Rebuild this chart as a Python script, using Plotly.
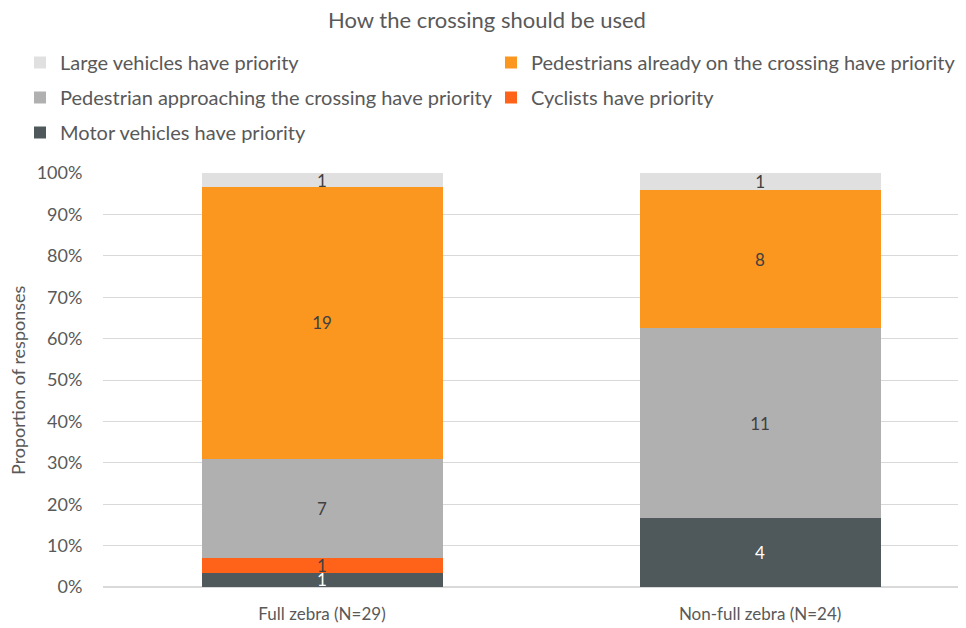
import plotly.graph_objects as go

categories = ["Full zebra (N=29)", "Non-full zebra (N=24)"]
totals = [29, 24]
series_names = [
    "Motor vehicles have priority",
    "Cyclists have priority",
    "Pedestrian approaching the crossing have priority",
    "Pedestrians already on the crossing have priority",
    "Large vehicles have priority",
]
motor = [1, 4]
cyclists = [1, 0]
approaching = [7, 11]
already = [19, 8]
large = [1, 1]
series_values = [motor, cyclists, approaching, already, large]
colors = ["#4F585B", "#FF6319", "#B0B0B0", "#FB961F", "#E0E0E0"]
text_colors = ["#FFFFFF", "#404040", "#404040", "#404040", "#404040"]
legend_ids = ["legend", "legend2", "legend", "legend2", "legend"]
ranks = [3, 2, 2, 1, 1]
y_title = "Proportion of responses"

FONT = "Lato"
W, H = 958, 620
L, R, T, B = 95, 0, 165, 41
fig = go.Figure()
for name, vals, col, tc, lg, rk in zip(series_names, series_values, colors, text_colors, legend_ids, ranks):
    pct = [v / t * 100 if v else None for v, t in zip(vals, totals)]
    fig.add_trace(go.Bar(
        x=categories, y=pct, name=name,
        marker=dict(color=col, line=dict(width=0)),
        text=[str(v) if v else "" for v in vals],
        textposition="inside", insidetextanchor="middle", textangle=0,
        textfont=dict(color=tc, size=17, family=FONT),
        legend=lg, legendrank=rk, legendgroup=name,
        hovertemplate="%{x}<br>" + name + ": %{text}<extra></extra>",
    ))

legend_common = dict(
    orientation="v", xref="container", yref="container",
    xanchor="left", yanchor="top",
    font=dict(size=20, family=FONT, color="#595959"), bgcolor="rgba(0,0,0,0)",
    traceorder="grouped", tracegroupgap=6, y=1 - 35 / H,
)
fig.update_layout(
    barmode="stack", bargap=0.45,
    width=W, height=H,
    paper_bgcolor="white", plot_bgcolor="white",
    margin=dict(l=L, r=R, t=T, b=B, autoexpand=False),
    title=dict(text="How the crossing should be used", x=0.5, xanchor="center",
               y=1 - 12 / H, yanchor="middle", font=dict(size=22, family=FONT, color="#595959")),
    legend=dict(legend_common, x=12 / W),
    legend2=dict(legend_common, x=483 / W),
    uniformtext=dict(minsize=17, mode="show"),
    xaxis=dict(range=[-0.5, 1.47], tickfont=dict(size=17, family=FONT, color="#595959"),
               showline=False, ticks="outside", ticklen=12, tickcolor="rgba(0,0,0,0)"),
    yaxis=dict(range=[0, 100], dtick=10, ticksuffix="%", gridcolor="#D9D9D9", gridwidth=1,
               tickfont=dict(size=18, family=FONT, color="#595959"), zeroline=True,
               zerolinecolor="#D9D9D9", ticks="outside", ticklen=16, tickcolor="rgba(0,0,0,0)"),
    annotations=[dict(text=y_title, textangle=-90, xref="paper", yref="paper",
                      x=(10 - L) / (W - L - R), y=0.5, xanchor="center", yanchor="middle",
                      showarrow=False, font=dict(size=18, family=FONT, color="#595959"))],
    showlegend=True,
)
fig.write_html("out.html")
